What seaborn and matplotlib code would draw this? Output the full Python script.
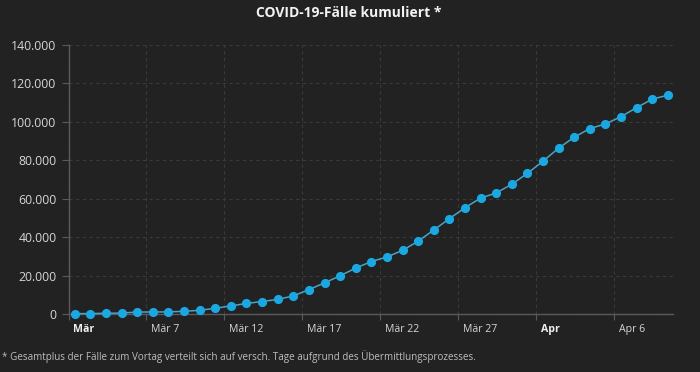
import matplotlib
matplotlib.use("Agg")
import matplotlib.pyplot as plt
import matplotlib.transforms as mtrans
import seaborn as sns
import pandas as pd

# ---- data ----
dates = pd.date_range("2020-03-02 10:00", periods=39, freq="D")
cases = [150, 250, 350, 500, 1000, 1050, 1100, 1400, 1900, 3000,
         4200, 5500, 6500, 7600, 9400, 12700, 16200, 19900, 23900, 27300,
         29700, 33100, 37900, 43700, 49600, 55300, 60300, 63000, 67500, 73200,
         79500, 86300, 92000, 96500, 98900, 102700, 107400, 111800, 113900]
tick_dates = ["2020-03-02 01:00", "2020-03-07 00:00", "2020-03-12 00:00", "2020-03-17 00:00",
              "2020-03-22 00:00", "2020-03-27 00:00", "2020-04-01 00:00", "2020-04-06 00:00"]
tick_labels = ["Mär", "Mär 7", "Mär 12", "Mär 17", "Mär 22", "Mär 27", "Apr", "Apr 6"]
bold_labels = ["Mär", "Apr"]
y_ticks = [0, 20000, 40000, 60000, 80000, 100000, 120000, 140000]
title = "COVID-19-Fälle kumuliert *"
footnote = ("* Gesamtplus der Fälle zum Vortag verteilt sich auf versch. Tage "
            "aufgrund des Übermittlungsprozesses.")

df = pd.DataFrame({"Datum": dates, "Fälle": cases})

BG = "#222222"
GRID = "#3a3a3a"
AXIS = "#5a5a5a"
TXT = "#d6d6d6"
LINE = "#4aa3c8"
MARK = "#1aa8e2"

sns.set_theme(style="dark", rc={
    "figure.facecolor": BG, "axes.facecolor": BG,
    "axes.edgecolor": AXIS, "text.color": TXT,
    "xtick.color": TXT, "ytick.color": TXT,
})
plt.rcParams["font.family"] = ["Open Sans", "DejaVu Sans"]

fig = plt.figure(figsize=(7.0, 3.72), dpi=100)
ax = fig.add_axes([69/700, 1-314/372, (673-69)/700, (314-45)/372])

sns.lineplot(data=df, x="Datum", y="Fälle", ax=ax, color=LINE, linewidth=1.1,
             marker="o", markersize=6.6, markerfacecolor=MARK,
             markeredgecolor=MARK, markeredgewidth=0, clip_on=False, zorder=3)

ax.set_xlim(pd.Timestamp("2020-03-02 01:00"), pd.Timestamp("2020-04-09 18:00"))
ax.set_ylim(0, 140000)
ax.set_xlabel("")
ax.set_ylabel("")

# y axis
ax.set_yticks(y_ticks)
ax.set_yticklabels([f"{v:,.0f}".replace(",", ".") for v in y_ticks])
ax.tick_params(axis="y", length=5, width=0.8, color=AXIS, labelsize=8.8,
               pad=4, left=True)

# x axis
tpos = pd.to_datetime(tick_dates, format="%Y-%m-%d %H:%M")
ax.set_xticks(tpos)
ax.set_xticklabels(tick_labels)
ax.tick_params(axis="x", length=4, width=0.8, color=AXIS, labelsize=7.6,
               pad=3, bottom=True)
off = mtrans.ScaledTranslation(3/72, 0, fig.dpi_scale_trans)
for lab in ax.get_xticklabels():
    lab.set_horizontalalignment("left")
    lab.set_transform(lab.get_transform() + off)
    if lab.get_text() in bold_labels:
        lab.set_fontweight("bold")
        lab.set_color("#f0f0f0")

# grid
ax.grid(True, axis="both", color=GRID, linestyle=(0, (3, 3)), linewidth=0.8)
ax.set_axisbelow(True)
for s in ["top", "right"]:
    ax.spines[s].set_visible(False)
for s in ["left", "bottom"]:
    ax.spines[s].set_visible(True)
    ax.spines[s].set_color(AXIS)
    ax.spines[s].set_linewidth(1.0)

fig.text(0.498, 1-13/372, title, ha="center", va="center",
         fontsize=10, fontweight="bold", color="#f2f2f2")
fig.text(2/700, 1-357/372, footnote, ha="left", va="center",
         fontsize=7.1, color="#bdbdbd")

fig.savefig("out.png", dpi=100, facecolor=BG)
